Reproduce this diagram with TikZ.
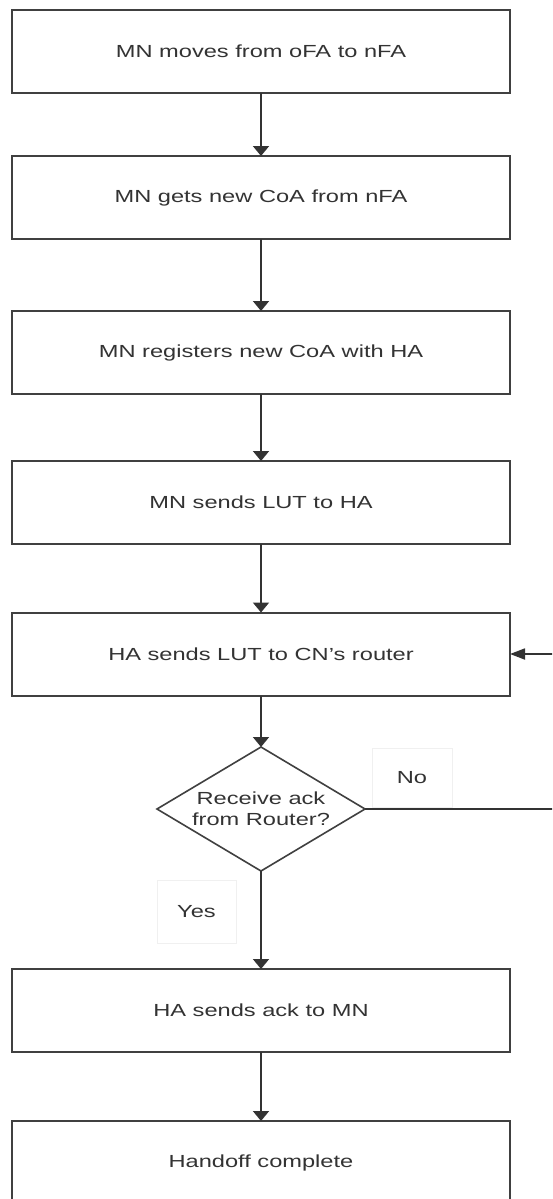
\documentclass[tikz,border=0pt]{standalone}
\usepackage{fontspec}
\setmainfont[FakeStretch=1.35]{Liberation Sans}
\usetikzlibrary{shapes.geometric,arrows.meta}
\tikzset{
  flowbox/.style={draw=black!75, line width=2pt, fill=white, minimum width=498pt, minimum height=83pt, inner sep=0pt, outer sep=0pt, text=black!80, font=\fontsize{17.5}{21}\selectfont},
  decide/.style={draw=black!75, line width=1.6pt, shape=diamond, shape aspect=1.677, minimum width=208pt, minimum height=124pt, inner sep=0pt, outer sep=0pt, align=center, text=black!80, font=\fontsize{17.5}{21}\selectfont},
  answer/.style={draw=black!6, line width=0.8pt, inner sep=0pt, text=black!80, font=\fontsize{17.5}{21}\selectfont},
  vflow/.style={draw=black!80, line width=1.8pt, -{Triangle[width=16pt,length=10pt]}},
  hflow/.style={draw=black!80, line width=1.8pt, -{Triangle[width=11pt,length=15pt]}},
  plainflow/.style={draw=black!80, line width=1.8pt}
}
\begin{document}
\begin{tikzpicture}[x=1pt,y=-1pt]
\useasboundingbox (0,0) rectangle (552,1199);
\clip (0,0) rectangle (552,1199);
\fill[white] (0,0) rectangle (552,1199);

\node[flowbox] (b1) at (261,51.5) {MN moves from oFA to nFA};
\node[flowbox] (b2) at (261,197.5) {MN gets new CoA from nFA};
\node[flowbox] (b3) at (261,352.5) {MN registers new CoA with HA};
\node[flowbox] (b4) at (261,502.5) {MN sends LUT to HA};
\node[flowbox] (b5) at (261,654) {HA sends LUT to CN’s router};
\node[decide]  (d)  at (261,809) {Receive ack\\from Router?};
\node[flowbox] (b6) at (261,1010.5) {HA sends ack to MN};
\node[flowbox] (b7) at (261,1162.5) {Handoff complete};

\node[answer, minimum width=80pt, minimum height=59pt] (no) at (412,777.5) {No};
\node[answer, minimum width=79pt, minimum height=63pt] (yes) at (196.5,911.5) {Yes};

\coordinate (r1) at (558,809);
\coordinate (r2) at (558,654);

\draw[vflow] (b1) -- (b2);
\draw[vflow] (b2) -- (b3);
\draw[vflow] (b3) -- (b4);
\draw[vflow] (b4) -- (b5);
\draw[vflow] (b5) -- (d);
\draw[vflow] (d) -- (b6);
\draw[vflow] (b6) -- (b7);
\draw[plainflow] (d.east) -- (r1) -- (r2);
\draw[hflow] (r2) -- (b5.east);
\end{tikzpicture}
\end{document}
